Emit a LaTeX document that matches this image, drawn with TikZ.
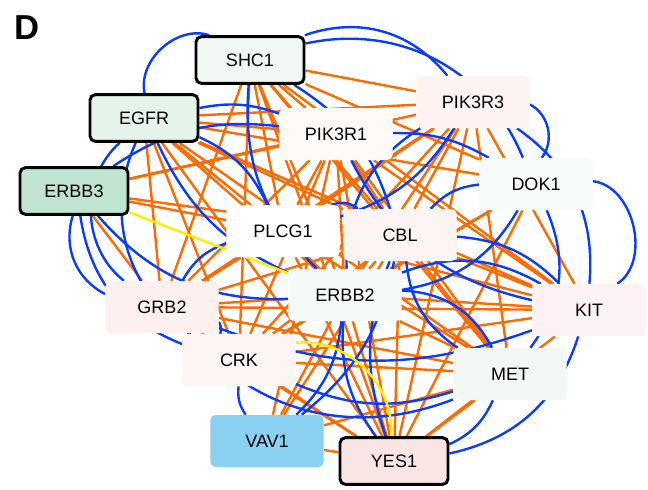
\documentclass[tikz,border=0pt]{standalone}
\usepackage{fontspec}
\setmainfont{Liberation Sans}
\usetikzlibrary{backgrounds}

\definecolor{oedgec}{HTML}{FF6A00}
\definecolor{bedgec}{HTML}{0A3CFF}
\definecolor{yedgec}{HTML}{FFEE00}

\begin{document}
\begin{tikzpicture}[x=0.75pt,y=0.75pt,
    gene/.style={rounded corners=4pt,minimum width=85pt,minimum height=39pt,
        font=\fontsize{13.5}{15}\selectfont},
    hub/.style={gene,draw=black,line width=2.2pt,minimum width=81pt,minimum height=35pt},
    oedge/.style={oedgec,line width=1.8pt},
    bedge/.style={bedgec,line width=1.8pt},
    yedge/.style={yedgec,line width=1.8pt}]
\useasboundingbox (0,0) rectangle (648,-489);

\node[font=\fontsize{26}{28}\selectfont\bfseries] (lbl) at (27,-28) {D};

\node[hub,fill={rgb,255:red,241;green,248;blue,243}] (SHC1) at (250,-60) {SHC1};
\node[hub,fill={rgb,255:red,229;green,243;blue,234}] (EGFR) at (144,-118) {EGFR};
\node[hub,fill={rgb,255:red,191;green,228;blue,207}] (ERBB3) at (74,-191) {ERBB3};
\node[gene,fill={rgb,255:red,253;green,250;blue,248}] (PIK3R1) at (336,-134) {PIK3R1};
\node[gene,fill={rgb,255:red,253;green,243;blue,243}] (PIK3R3) at (473,-102) {PIK3R3};
\node[gene,fill={rgb,255:red,247;green,251;blue,250}] (DOK1) at (536,-184) {DOK1};
\node[gene,fill=white] (PLCG1) at (283,-231) {PLCG1};
\node[gene,fill={rgb,255:red,253;green,245;blue,243}] (CBL) at (400,-235) {CBL};
\node[gene,fill={rgb,255:red,253;green,241;blue,239}] (GRB2) at (162,-307) {GRB2};
\node[gene,fill={rgb,255:red,245;green,250;blue,249}] (ERBB2) at (345,-295) {ERBB2};
\node[gene,fill={rgb,255:red,253;green,242;blue,243}] (KIT) at (589,-310) {KIT};
\node[gene,fill={rgb,255:red,253;green,244;blue,244}] (CRK) at (239,-360) {CRK};
\node[gene,fill={rgb,255:red,243;green,248;blue,245}] (MET) at (510,-374) {MET};
\node[gene,fill={rgb,255:red,138;green,208;blue,240}] (VAV1) at (267,-441) {VAV1};
\node[hub,fill={rgb,255:red,250;green,229;blue,229}] (YES1) at (394,-461) {YES1};

\begin{scope}[on background layer]
\foreach \a/\b in {SHC1/PIK3R1,SHC1/PIK3R3,SHC1/CBL,SHC1/ERBB2,SHC1/GRB2,SHC1/CRK,
    SHC1/YES1,SHC1/KIT,SHC1/MET,SHC1/PLCG1,SHC1/DOK1,
    EGFR/PIK3R1,EGFR/PIK3R3,EGFR/CBL,EGFR/PLCG1,EGFR/ERBB2,EGFR/GRB2,EGFR/CRK,
    EGFR/YES1,EGFR/KIT,EGFR/MET,EGFR/DOK1,
    ERBB3/PIK3R1,ERBB3/PIK3R3,ERBB3/PLCG1,ERBB3/CBL,ERBB3/GRB2,
    PIK3R1/CBL,PIK3R1/ERBB2,PIK3R1/GRB2,PIK3R1/CRK,PIK3R1/YES1,PIK3R1/KIT,
    PIK3R1/MET,PIK3R1/PLCG1,PIK3R1/VAV1,
    PIK3R3/ERBB2,PIK3R3/CBL,PIK3R3/GRB2,PIK3R3/CRK,PIK3R3/KIT,PIK3R3/MET,
    PIK3R3/YES1,PIK3R3/PLCG1,
    DOK1/ERBB2,DOK1/YES1,DOK1/CRK,
    PLCG1/ERBB2,PLCG1/GRB2,PLCG1/YES1,PLCG1/MET,PLCG1/KIT,
    CBL/ERBB2,CBL/GRB2,CBL/CRK,CBL/YES1,CBL/KIT,CBL/MET,CBL/VAV1,
    GRB2/ERBB2,GRB2/KIT,GRB2/MET,GRB2/YES1,
    ERBB2/CRK,ERBB2/YES1,ERBB2/KIT,ERBB2/MET,ERBB2/VAV1,
    CRK/YES1,CRK/MET,CRK/KIT,VAV1/YES1,VAV1/MET,KIT/YES1,MET/YES1}
  \draw[oedge] (\a) -- (\b);
% negative bend = bend right
\foreach \a/\b/\s in {SHC1/EGFR/-60,SHC1/PIK3R3/35,SHC1/DOK1/40,
    PIK3R3/DOK1/50,DOK1/KIT/70,PIK3R3/KIT/30,
    EGFR/GRB2/-50,EGFR/CRK/-40,ERBB3/GRB2/-40,ERBB3/CRK/-30,
    ERBB3/PIK3R1/20,EGFR/PIK3R1/15,EGFR/ERBB2/-20,
    SHC1/ERBB2/-25,SHC1/CBL/20,PIK3R1/DOK1/15,PIK3R1/KIT/-25,
    PIK3R3/ERBB2/-30,PIK3R3/PLCG1/20,DOK1/CBL/-20,DOK1/MET/30,
    DOK1/ERBB2/25,CBL/KIT/20,CBL/MET/-25,ERBB2/KIT/25,
    ERBB2/MET/30,PLCG1/GRB2/-20,GRB2/CRK/20,GRB2/KIT/-20,
    GRB2/MET/-35,CRK/VAV1/-20,VAV1/ERBB2/-20,YES1/ERBB2/20,
    YES1/KIT/-30,YES1/MET/-20,YES1/CBL/20,VAV1/CBL/-20,
    CRK/MET/-20,ERBB3/ERBB2/-25,PLCG1/CBL/30,EGFR/PLCG1/20}
  \draw[bedge] (\a) to[bend left=\s] (\b);
\draw[yedge] (ERBB3) -- (ERBB2);
\draw[yedge] (CRK) to[bend left=50] (YES1);
\end{scope}
\end{tikzpicture}
\end{document}
